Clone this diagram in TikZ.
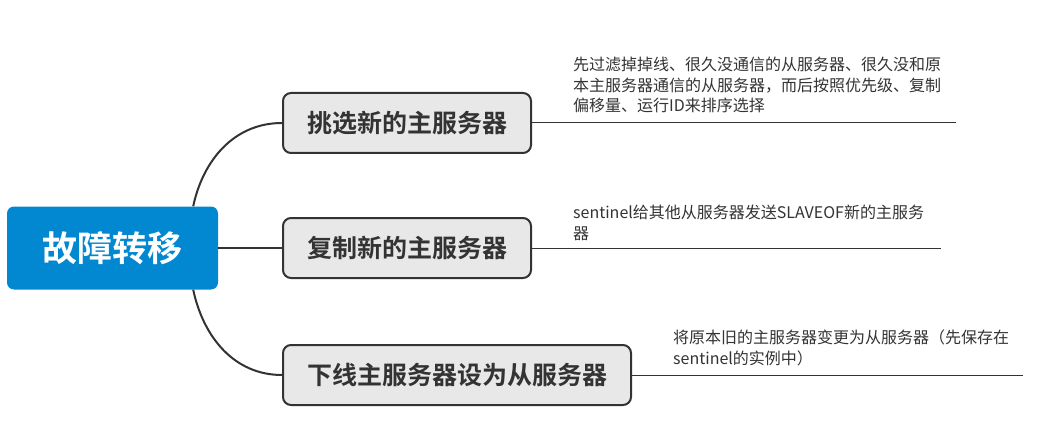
\documentclass[tikz,border=0pt]{standalone}
\usepackage{fontspec}
\setmainfont{Noto Sans CJK SC}
\newfontfamily\cjkbold{Noto Sans CJK SC Bold}
\definecolor{rootblue}{HTML}{0288D1}
\definecolor{boxgray}{HTML}{E8E8E8}
\definecolor{linegray}{HTML}{333333}
\begin{document}
\begin{tikzpicture}[x=1pt,y=-1pt,
  root/.style={draw=none, fill=rootblue, rounded corners=7pt, minimum width=211pt, minimum height=83pt, text=white, font=\cjkbold\fontsize{35}{40}\selectfont},
  branch/.style={draw=linegray, line width=2pt, fill=boxgray, rounded corners=8pt, minimum height=60pt, inner xsep=24pt, text=linegray, font=\cjkbold\fontsize{25}{28}\selectfont},
  leaf/.style={anchor=north west, inner sep=0pt, align=left, text=linegray, font=\fontsize{16}{20.5}\selectfont},
  edge/.style={draw=linegray, line width=2pt},
  under/.style={draw=linegray, line width=1pt}]
\useasboundingbox (0,0) rectangle (1042,425);

\node[root] (root) at (112.5,248) {故障转移};
\node[branch, anchor=west] (pick) at (282,123) {挑选新的主服务器};
\node[branch, anchor=west] (copy) at (282,248) {复制新的主服务器};
\node[branch, anchor=west] (down) at (282,375) {下线主服务器设为从服务器};

\node[leaf] (pickleaf) at (573,57) {先过滤掉掉线、很久没通信的从服务器、很久没和原\\本主服务器通信的从服务器，而后按照优先级、复制\\偏移量、运行ID来排序选择};
\node[leaf] (copyleaf) at (573,205) {sentinel给其他从服务器发送SLAVEOF新的主服务\\器};
\node[leaf] (downleaf) at (673,330) {将原本旧的主服务器变更为从服务器（先保存在\\sentinel的实例中）};

\coordinate (pickend) at (956,123);
\coordinate (copyend) at (941,248);
\coordinate (downend) at (1023,375);

\path[edge] ([xshift=-25pt]root.north east) to[out=78,in=180] (pick.west);
\path[edge] (root.east) -- (copy.west);
\path[edge] ([xshift=-25pt]root.south east) to[out=-78,in=180] (down.west);

\path[under] (pick.east) -- (pickend);
\path[under] (copy.east) -- (copyend);
\path[under] (down.east) -- (downend);
\end{tikzpicture}
\end{document}
